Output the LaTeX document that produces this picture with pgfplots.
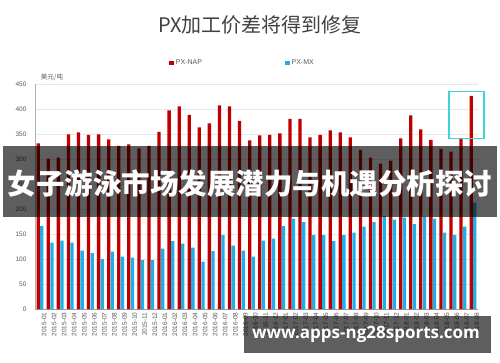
\documentclass[border=0pt]{standalone}
\usepackage{fontspec}
\setmainfont{Liberation Sans}
\newfontfamily\cjk{Noto Sans CJK SC}
\newfontfamily\osans{Open Sans}
\usepackage{pgfplots}
\pgfplotsset{compat=1.18}
\usepackage{pgfplotstable}
\definecolor{napred}{HTML}{C00000}
\definecolor{mxblue}{HTML}{1FAEE8}
\definecolor{gridgray}{HTML}{E8E8E8}
\definecolor{txtgray}{HTML}{595959}
\definecolor{titlegray}{HTML}{404040}
\definecolor{boxcyan}{HTML}{3FD3D6}

\pgfplotstableread{
idx nap mx
0 331 166
1 301 133
2 303 137
3 349 133
4 353 117
5 348 112
6 349 100
7 339 115
8 326 105
9 329 103
10 321 98
11 326 98
12 354 121
13 397 136
14 405 131
15 388 123
16 363 95
17 371 116
18 407 148
19 405 127
20 376 117
21 337 105
22 347 137
23 348 141
24 351 166
25 380 181
26 380 174
27 343 148
28 348 148
29 357 136
30 353 148
31 343 153
32 318 165
33 303 174
34 291 186
35 297 179
36 341 183
37 387 170
38 359 185
39 338 181
40 320 153
41 315 148
42 340 165
43 426 213
}\datatable

\begin{document}
\begin{tikzpicture}[x=1pt,y=1pt]
\useasboundingbox (0,0) rectangle (500,362);
\node[font=\cjk\fontsize{20}{22}\selectfont, text=titlegray] at (260,337) {PX加工价差将得到修复};
\node[font=\cjk\fontsize{6.5}{7}\selectfont, text=txtgray] at (52,285) {美元/吨};
\begin{axis}[
  at={(35pt,53pt)}, anchor=south west, scale only axis,
  width=443pt, height=225pt,
  xmin=-0.5, xmax=43.5, ymin=0, ymax=450,
  ybar, bar width=3.3pt,
  clip=false,
  axis x line*=bottom, axis y line*=left,
  x axis line style={draw=gray!80, -},
  y axis line style={draw=gray!60, -},
  ytick={0,50,...,450},
  ymajorgrids, grid style={gridgray, line width=0.5pt},
  xtick={0,...,43},
  xticklabels={2015-01,2015-02,2015-03,2015-04,2015-05,2015-06,2015-07,2015-08,2015-09,2015-10,2015-11,2015-12,2016-01,2016-02,2016-03,2016-04,2016-05,2016-06,2016-07,2016-08,2016-09,2016-10,2016-11,2016-12,2017-01,2017-02,2017-03,2017-04,2017-05,2017-06,2017-07,2017-08,2017-09,2017-10,2017-11,2017-12,2018-01,2018-02,2018-03,2018-04,2018-05,2018-06,2018-07,2018-08},
  major tick length=0pt,
  /pgf/number format/assume math mode=true,
  xticklabel style={rotate=90, anchor=east, font=\fontsize{6.5}{7}\selectfont, text=txtgray, yshift=-4pt},
  yticklabel style={font=\fontsize{6.5}{7}\selectfont, text=txtgray, xshift=-5pt},
  legend style={at={(0.296,1.093)}, anchor=west, draw=none, fill=none,
    legend columns=2, font=\fontsize{7}{8}\selectfont, text=txtgray,
    /tikz/every even column/.append style={column sep=81pt}},
]
\addplot[fill=napred, draw=none, bar shift=-1.8pt,
  legend image code/.code={\fill[napred] (0pt,-2.3pt) rectangle (4.6pt,2.3pt);}]
  table[x=idx, y=nap] {\datatable};
\addlegendentry{PX-NAP}
\addplot[fill=mxblue, draw=none, bar shift=1.8pt,
  legend image code/.code={\fill[mxblue] (0pt,-2.3pt) rectangle (4.6pt,2.3pt);}]
  table[x=idx, y=mx] {\datatable};
\addlegendentry{PX-MX}
\draw[boxcyan, line width=1.5pt] (axis cs:40.6,341) rectangle (axis cs:44.1,435);
\end{axis}
\fill[black, opacity=0.63] (3,145) rectangle (497,216);
\node[font=\cjk\bfseries\fontsize{28.5}{30}\selectfont, text=white] at (250,178) {女子游泳市场发展潜力与机遇分析探讨};
\fill[black, opacity=0.63] (244,9) rectangle (491,46);
\node[font=\osans\bfseries\fontsize{17}{19}\selectfont, text=white] at (366,27.5) {www.apps-ng28sports.com};
\end{tikzpicture}
\end{document}
